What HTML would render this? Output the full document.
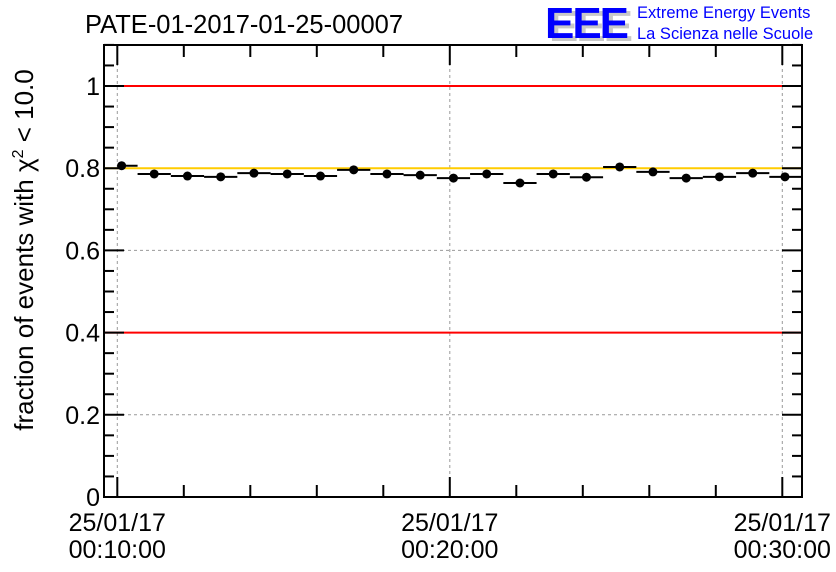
<!DOCTYPE html>
<html><head><meta charset="utf-8"><style>
html,body{margin:0;padding:0;background:#fff}
svg{display:block;font-family:"Liberation Sans",sans-serif}
</style></head><body>
<svg id="chart" width="836" height="572" viewBox="0 0 836 572">
<text x="85" y="33" font-size="25.5">PATE-01-2017-01-25-00007</text>
<g>
<text x="549" y="41" font-size="44" font-weight="bold" fill="#c8c8c8" letter-spacing="-2" textLength="82" lengthAdjust="spacingAndGlyphs">EEE</text>
<text x="545" y="38" font-size="44" font-weight="bold" fill="#0000ff" letter-spacing="-2" textLength="82" lengthAdjust="spacingAndGlyphs">EEE</text>
<text x="637" y="18" font-size="16.5" fill="#0000ff">Extreme Energy Events</text>
<text x="637" y="39" font-size="16.5" fill="#0000ff">La Scienza nelle Scuole</text>
</g>
<g id="grid"></g>
<g id="refs"></g>
<g id="marks"></g>
<g id="axes"></g>
<text transform="translate(33,250) rotate(-90)" text-anchor="middle" font-size="26">fraction of events with χ<tspan font-size="16" dy="-10">2</tspan><tspan dy="10"> &lt; 10.0</tspan></text>
</svg>
<script>
// data (x in minutes after 00:10:00)
const times=[0.13,1.11,2.11,3.11,4.11,5.11,6.11,7.11,8.11,9.11,10.11,11.11,12.11,13.11,14.11,15.11,16.11,17.11,18.11,19.11,20.08];
const binLow=[0,0.61,1.61,2.61,3.61,4.61,5.61,6.61,7.61,8.61,9.61,10.61,11.61,12.61,13.61,14.61,15.61,16.61,17.61,18.61,19.61];
const binHigh=[0.61,1.61,2.61,3.61,4.61,5.61,6.61,7.61,8.61,9.61,10.61,11.61,12.61,13.61,14.61,15.61,16.61,17.61,18.61,19.61,20.6];
const values=[0.806,0.786,0.781,0.779,0.788,0.786,0.781,0.796,0.786,0.783,0.776,0.786,0.764,0.786,0.778,0.803,0.791,0.776,0.779,0.788,0.779];
const yTicks=[0,0.2,0.4,0.6,0.8,1];
const yTickLabels=["0","0.2","0.4","0.6","0.8","1"];
const xTicks=[0,10,20];
const xTickLabels=[["25/01/17","00:10:00"],["25/01/17","00:20:00"],["25/01/17","00:30:00"]];
const redLines=[1.0,0.4];
const yellowLine=[0.8];

const L=104,R=802,T=45,B=497;
const X0=117.3,PXM=33.25;
const sx=m=>X0+m*PXM;
const sy=v=>B-v*411;
const NS="http://www.w3.org/2000/svg";
function mk(p,tag,a){const e=document.createElementNS(NS,tag);for(const k in a)e.setAttribute(k,a[k]);p.appendChild(e);return e;}
const grid=document.getElementById('grid'),refs=document.getElementById('refs'),marks=document.getElementById('marks'),axes=document.getElementById('axes');
yTicks.forEach(v=>{if(v===0)return;const l=mk(grid,'line',{x1:L,x2:R,y1:sy(v),y2:sy(v),stroke:'#999','stroke-dasharray':'3,3','stroke-width':1});

});
xTicks.forEach(m=>{const l=mk(grid,'line',{x1:sx(m),x2:sx(m),y1:T,y2:B,stroke:'#999','stroke-dasharray':'3,3','stroke-width':1});

});
redLines.forEach(v=>{const l=mk(refs,'line',{x1:L,x2:R,y1:sy(v),y2:sy(v),stroke:'#ff0000','stroke-width':2});

});
yellowLine.forEach(v=>{const l=mk(refs,'line',{x1:L,x2:R,y1:sy(v),y2:sy(v),stroke:'#ffcc00','stroke-width':2});

});
values.forEach((v,i)=>{
const b=mk(marks,'line',{x1:sx(binLow[i]),x2:sx(binHigh[i]),y1:sy(v),y2:sy(v),stroke:'#000','stroke-width':2});


const c=mk(marks,'circle',{cx:sx(times[i]),cy:sy(v),r:4.5,fill:'#000'});


});
const fr=mk(axes,'rect',{x:L,y:T,width:R-L,height:B-T,fill:'none',stroke:'#000','stroke-width':2});


for(let k=0;k<=22;k++){const v=k*0.05;const y=sy(v);const len=(k%4===0)?20:10;
mk(axes,'line',{x1:L,x2:L+len,y1:y,y2:y,stroke:'#000','stroke-width':2});
mk(axes,'line',{x1:R-len,x2:R,y1:y,y2:y,stroke:'#000','stroke-width':2});}
yTicks.forEach((v,i)=>{const t=mk(axes,'text',{x:L-4,y:sy(v)+9,'text-anchor':'end','font-size':25});t.textContent=yTickLabels[i];

});
for(let m=0;m<=20;m+=2){const len=(m%10===0)?20:12;
mk(axes,'line',{x1:sx(m),x2:sx(m),y1:B,y2:B-len,stroke:'#000','stroke-width':2});
mk(axes,'line',{x1:sx(m),x2:sx(m),y1:T,y2:T+len,stroke:'#000','stroke-width':2});}
xTickLabels.forEach((lab,i)=>{const x=sx(xTicks[i]);
const t=mk(axes,'text',{x:x,y:531,'text-anchor':'middle','font-size':25});t.textContent=lab[0];


const t2=mk(axes,'text',{x:x,y:558,'text-anchor':'middle','font-size':25});t2.textContent=lab[1];

});
</script>
</body></html>
